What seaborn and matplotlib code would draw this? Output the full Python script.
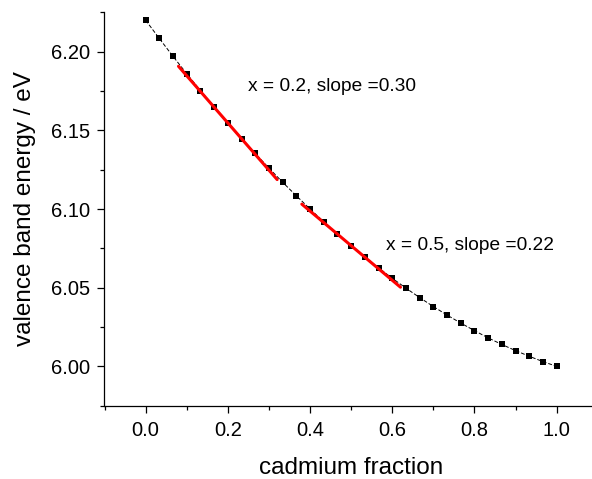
import matplotlib
matplotlib.use("Agg")
import matplotlib.pyplot as plt
from matplotlib.ticker import MultipleLocator
import seaborn as sns
import pandas as pd

# data
cd_fraction = [0.0, 0.0333, 0.0667, 0.1, 0.1333, 0.1667, 0.2, 0.2333, 0.2667, 0.3,
               0.3333, 0.3667, 0.4, 0.4333, 0.4667, 0.5, 0.5333, 0.5667, 0.6, 0.6333,
               0.6667, 0.7, 0.7333, 0.7667, 0.8, 0.8333, 0.8667, 0.9, 0.9333, 0.9667, 1.0]
vb_energy = [6.2200, 6.2084, 6.1970, 6.1860, 6.1753, 6.1648, 6.1547, 6.1448, 6.1353, 6.1260,
             6.1170, 6.1084, 6.1000, 6.0919, 6.0841, 6.0767, 6.0695, 6.0626, 6.0560, 6.0497,
             6.0437, 6.0380, 6.0326, 6.0275, 6.0227, 6.0181, 6.0139, 6.0100, 6.0064, 6.0030,
             6.0000]
tangent1_x = [0.08, 0.32]
tangent1_y = [6.1907, 6.1187]
tangent2_x = [0.38, 0.62]
tangent2_y = [6.1031, 6.0503]
label1 = "x = 0.2, slope =0.30"
label2 = "x = 0.5, slope =0.22"
xlabel = "cadmium fraction"
ylabel = "valence band energy / eV"

sns.set_theme(style="ticks")
plt.rcParams['font.family'] = ['Liberation Sans', 'DejaVu Sans']
plt.rcParams['text.color'] = 'black'
plt.rcParams['axes.labelcolor'] = 'black'

fig = plt.figure(figsize=(5.92, 4.79), dpi=100)
ax = fig.add_axes([104.5 / 592, 1 - 405.7 / 479, 493.3 / 592, (405.7 - 12) / 479])

df = pd.DataFrame({"x": cd_fraction, "y": vb_energy})
sns.lineplot(data=df, x="x", y="y", ax=ax, color="black", linewidth=0.7,
             marker="s", markersize=4.6, markeredgewidth=0, zorder=2)
ax.lines[-1].set_dashes((4, 2))

t1 = pd.DataFrame({"x": tangent1_x, "y": tangent1_y})
t2 = pd.DataFrame({"x": tangent2_x, "y": tangent2_y})
sns.lineplot(data=t1, x="x", y="y", ax=ax, color="#ff0000", linewidth=2.2, zorder=3)
sns.lineplot(data=t2, x="x", y="y", ax=ax, color="#ff0000", linewidth=2.2, zorder=3)

ax.text(0.249, 6.178, label1, fontsize=13.8, va="center", ha="left", color="black")
ax.text(0.585, 6.0766, label2, fontsize=13.8, va="center", ha="left", color="black")

ax.set_xlim(-0.1, 1.1)
ax.set_ylim(5.975, 6.2252)
ax.xaxis.set_major_locator(MultipleLocator(0.2))
ax.xaxis.set_minor_locator(MultipleLocator(0.1))
ax.yaxis.set_major_locator(MultipleLocator(0.05))
ax.yaxis.set_minor_locator(MultipleLocator(0.025))
ax.xaxis.set_major_formatter(plt.FormatStrFormatter('%.1f'))
ax.yaxis.set_major_formatter(plt.FormatStrFormatter('%.2f'))

for s in ["top", "right"]:
    ax.spines[s].set_visible(False)
for s in ["left", "bottom"]:
    ax.spines[s].set_linewidth(0.9)
    ax.spines[s].set_color("black")

ax.tick_params(which="major", direction="out", length=5, width=0.9, colors="black",
               labelsize=14.5)
ax.tick_params(axis="x", which="major", pad=6)
ax.tick_params(axis="y", which="major", pad=5)
ax.tick_params(which="minor", direction="out", length=3, width=0.9, colors="black")

ax.set_xlabel(xlabel, fontsize=17.5, labelpad=12)
ax.set_ylabel(ylabel, fontsize=17.5, labelpad=11)

fig.savefig("out.png", dpi=100)
